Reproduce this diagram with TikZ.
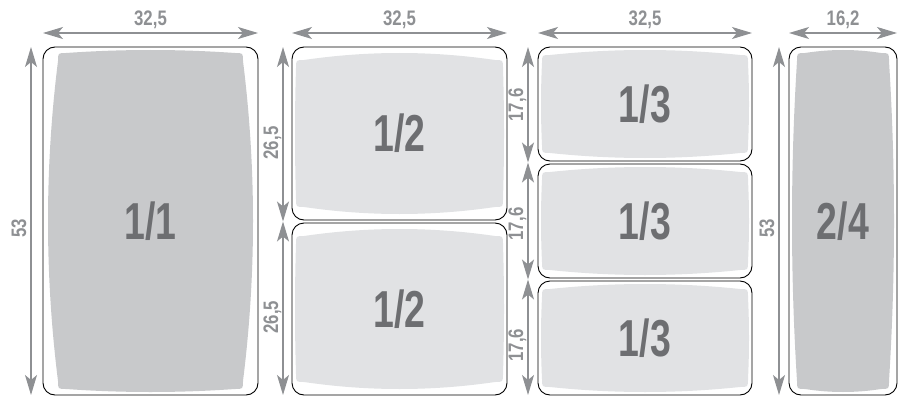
\documentclass[tikz,border=0pt]{standalone}
\usepackage{fontspec}
\setmainfont{Liberation Sans}
\newfontfamily\traynumfont{Liberation Sans}[FakeStretch=0.72]
\newfontfamily\dimnumfont{Liberation Sans}[FakeStretch=0.8]
\usetikzlibrary{arrows.meta}
\usepackage{xcolor}

\definecolor{traygray}{HTML}{C8C9CB}
\definecolor{traylight}{HTML}{E1E2E4}
\definecolor{dimgray}{HTML}{8E9093}
\definecolor{labelgray}{HTML}{6D6E71}

% inner screen of a tray: x1 y1 x2 y2, inset x/y, bulge x/y, colour
\newcommand{\screen}[9]{%
    \pgfmathsetmacro{\scrA}{#1+#5}%
    \pgfmathsetmacro{\scrC}{#3-#5}%
    \pgfmathsetmacro{\scrB}{#2+#6}%
    \pgfmathsetmacro{\scrD}{#4-#6}%
    \pgfmathsetmacro{\scrW}{(\scrC-\scrA-16)/3}%
    \pgfmathsetmacro{\scrH}{(\scrD-\scrB-16)/3}%
    \pgfmathsetmacro{\scrKx}{4/3*#7}%
    \pgfmathsetmacro{\scrKy}{4/3*#8}%
    \fill[#9] (\scrA+8,\scrB)
        .. controls +(\scrW,-\scrKy) and +(-\scrW,-\scrKy) .. (\scrC-8,\scrB)
        .. controls (\scrC,\scrB) .. (\scrC,\scrB+8)
        .. controls +(\scrKx,\scrH) and +(\scrKx,-\scrH) .. (\scrC,\scrD-8)
        .. controls (\scrC,\scrD) .. (\scrC-8,\scrD)
        .. controls +(-\scrW,\scrKy) and +(\scrW,\scrKy) .. (\scrA+8,\scrD)
        .. controls (\scrA,\scrD) .. (\scrA,\scrD-8)
        .. controls +(-\scrKx,-\scrH) and +(-\scrKx,\scrH) .. (\scrA,\scrB+8)
        .. controls (\scrA,\scrB) .. (\scrA+8,\scrB) -- cycle;
}

\begin{document}
\begin{tikzpicture}[x=1pt, y=-1pt,
    >={Stealth[length=20pt,width=12pt,inset=5pt]},
    tray/.style={
        draw=black,
        line width=0.9pt,
        rounded corners=12pt,
        inner sep=0pt,
        text=labelgray,
        font=\traynumfont\bfseries\fontsize{52}{52}\selectfont
    },
    dimline/.style={<->, draw=dimgray, line width=1.2pt},
    dimlabel/.style={
        inner sep=0pt,
        anchor=base,
        text=dimgray,
        font=\dimnumfont\bfseries\fontsize{21}{21}\selectfont
    }
]
    \useasboundingbox (0,0) rectangle (910,404);

    \screen{43}{47}{258}{395}{15}{6}{10}{3}{traygray}
    \screen{292}{47}{507}{220}{4}{13}{1}{7}{traylight}
    \screen{292}{223}{507}{395}{4}{13}{1}{7}{traylight}
    \screen{538}{47}{752}{161}{4}{8}{1}{5}{traylight}
    \screen{538}{164}{752}{278}{4}{8}{1}{5}{traylight}
    \screen{538}{281}{752}{395}{4}{8}{1}{5}{traylight}
    \screen{789}{47}{897}{395}{8}{6}{5}{3}{traygray}



    \node (tray_full) [tray, minimum width=215pt, minimum height=348pt] at (150.5, 221)
    {
        1/1
    };



    \node (tray_half_top) [tray, minimum width=215pt, minimum height=173pt] at (399.5, 133.5)
    {
        1/2
    };
    \node (tray_half_bottom) [tray, minimum width=215pt, minimum height=172pt] at (399.5, 309)
    {
        1/2
    };



    \node (tray_third_top) [tray, minimum width=214pt, minimum height=114pt] at (645, 104)
    {
        1/3
    };
    \node (tray_third_mid) [tray, minimum width=214pt, minimum height=114pt] at (645, 221)
    {
        1/3
    };
    \node (tray_third_bottom) [tray, minimum width=214pt, minimum height=114pt] at (645, 338)
    {
        1/3
    };



    \node (tray_quarter) [tray, minimum width=108pt, minimum height=348pt] at (843, 221)
    {
        2/4
    };



    \coordinate (full_w_l) at (43, 33);
    \coordinate (full_w_r) at (258, 33);
    \coordinate (full_h_t) at (31, 47);
    \coordinate (full_h_b) at (31, 395);

    \coordinate (half_w_l) at (292, 33);
    \coordinate (half_w_r) at (507, 33);
    \coordinate (half_h_t) at (283, 47);
    \coordinate (half_h_m) at (283, 221.5);
    \coordinate (half_h_b) at (283, 395);

    \coordinate (third_w_l) at (538, 33);
    \coordinate (third_w_r) at (752, 33);
    \coordinate (third_h_a) at (528, 47);
    \coordinate (third_h_b) at (528, 162.5);
    \coordinate (third_h_c) at (528, 279.5);
    \coordinate (third_h_d) at (528, 395);

    \coordinate (quarter_w_l) at (789, 33);
    \coordinate (quarter_w_r) at (897, 33);
    \coordinate (quarter_h_t) at (779, 47);
    \coordinate (quarter_h_b) at (779, 395);



    \draw[dimline] (full_w_l) to (full_w_r);
    \draw[dimline] (full_h_t) to (full_h_b);
    \draw[dimline] (half_w_l) to (half_w_r);
    \draw[dimline] (half_h_t) to (half_h_m);
    \draw[dimline] (half_h_m) to (half_h_b);
    \draw[dimline] (third_w_l) to (third_w_r);
    \draw[dimline] (third_h_a) to (third_h_b);
    \draw[dimline] (third_h_b) to (third_h_c);
    \draw[dimline] (third_h_c) to (third_h_d);
    \draw[dimline] (quarter_w_l) to (quarter_w_r);
    \draw[dimline] (quarter_h_t) to (quarter_h_b);



    \node (full_w_label) [dimlabel] at (150.5, 26) {32,5};
    \node (half_w_label) [dimlabel] at (399.5, 26) {32,5};
    \node (third_w_label) [dimlabel] at (645, 26) {32,5};
    \node (quarter_w_label) [dimlabel] at (843, 26) {16,2};

    \node (full_h_label) [dimlabel, rotate=90] at (26, 228) {53};
    \node (half_h_label_top) [dimlabel, rotate=90] at (278, 143) {26,5};
    \node (half_h_label_bottom) [dimlabel, rotate=90] at (278, 317) {26,5};
    \node (third_h_label_top) [dimlabel, rotate=90] at (523, 105) {17,6};
    \node (third_h_label_mid) [dimlabel, rotate=90] at (523, 224) {17,6};
    \node (third_h_label_bottom) [dimlabel, rotate=90] at (523, 345) {17,6};
    \node (quarter_h_label) [dimlabel, rotate=90] at (774, 228) {53};


\end{tikzpicture}
\end{document}
